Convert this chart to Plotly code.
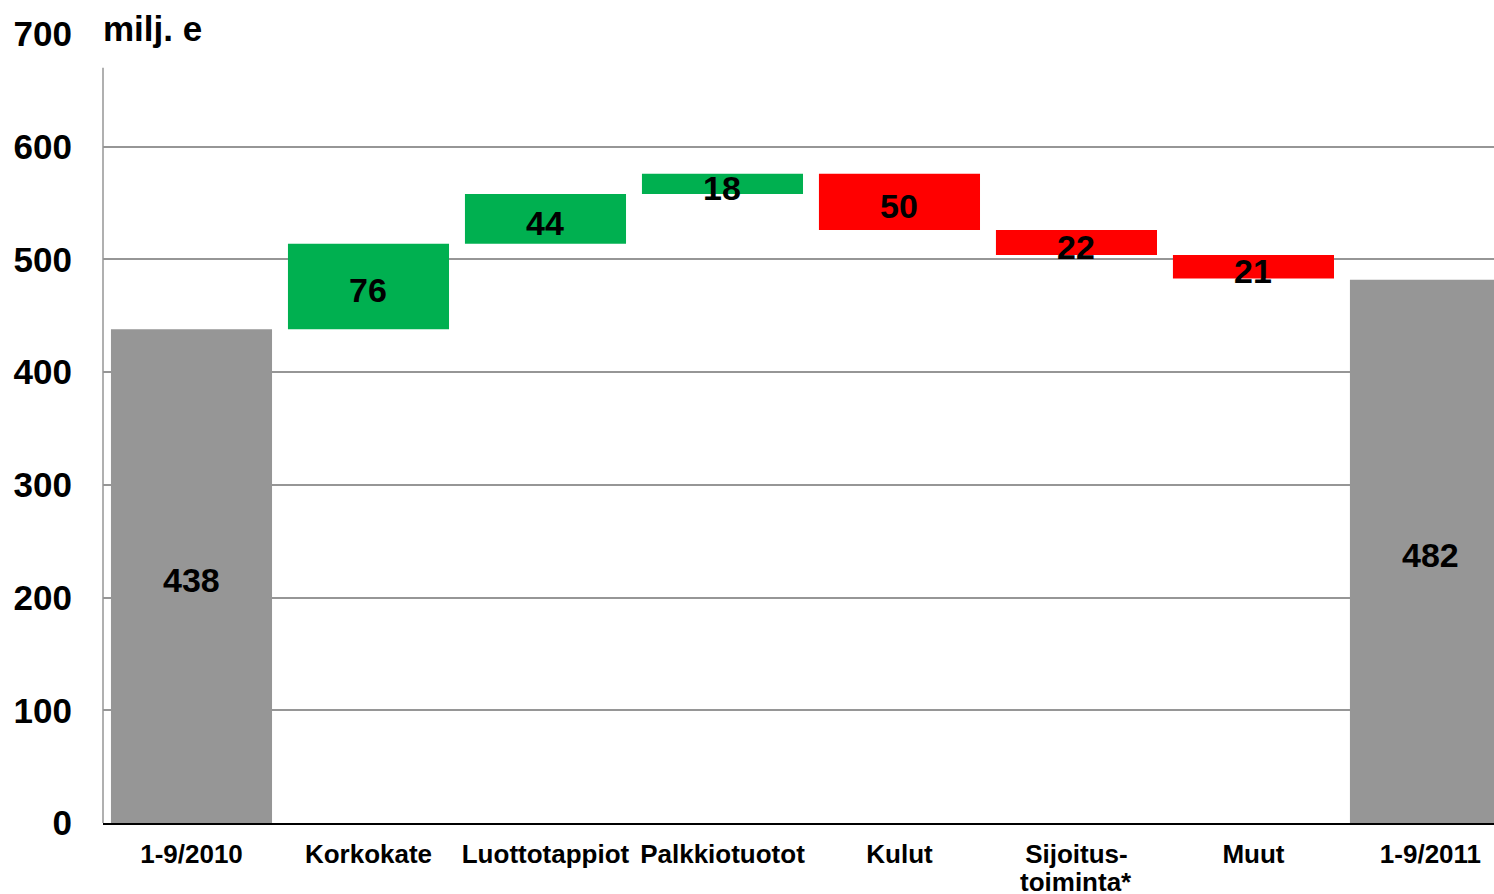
import plotly.graph_objects as go

categories = ["1-9/2010", "Korkokate", "Luottotappiot", "Palkkiotuotot", "Kulut",
              "Sijoitus-toiminta*", "Muut", "1-9/2011"]
tick_labels = ["1-9/2010", "Korkokate", "Luottotappiot", "Palkkiotuotot", "Kulut",
               "Sijoitus-", "Muut", "1-9/2011"]
tick_second_line = ["", "", "", "", "", "toiminta*", "", ""]
changes = [438, 76, 44, 18, -50, -22, -21, 482]
kinds = ["total", "up", "up", "up", "down", "down", "down", "total"]
labels = ["438", "76", "44", "18", "50", "22", "21", "482"]
y_ticks = [0, 100, 200, 300, 400, 500, 600, 700]

colors = {"total": "#969696", "up": "#00B050", "down": "#FF0000"}

# compute bases from the data (waterfall)
bases, heights = [], []
running = 0
for v, k in zip(changes, kinds):
    if k == "total":
        bases.append(0)
        heights.append(v)
        running = v
    else:
        if v >= 0:
            bases.append(running)
            heights.append(v)
        else:
            bases.append(running + v)
            heights.append(-v)
        running += v
mids = [b + h / 2 for b, h in zip(bases, heights)]

fig = go.Figure()
fig.add_trace(go.Bar(
    x=categories, y=heights, base=bases,
    marker=dict(color=[colors[k] for k in kinds], line=dict(width=0)),
    width=0.91, hoverinfo="skip", showlegend=False,
))

annotations = []
for c, m, t in zip(categories, mids, labels):
    annotations.append(dict(
        text=t, x=c, y=m, xref="x", yref="y", xanchor="center", yanchor="middle",
        yshift=-4, showarrow=False,
        font=dict(size=34, family="Liberation Sans", weight="bold", color="black"),
    ))
for c, t in zip(categories, tick_second_line):
    if t:
        annotations.append(dict(
            text=t, x=c, y=0, xref="x", yref="paper", xanchor="center", yanchor="middle",
            yshift=-59, showarrow=False, borderpad=0,
            font=dict(size=26, family="Liberation Sans", weight="bold", color="black"),
        ))
annotations.append(dict(
    text="milj. e", xref="paper", yref="y", x=0, y=700, xanchor="left",
    yanchor="middle", xshift=-2, yshift=6, showarrow=False,
    font=dict(size=35, family="Liberation Sans", weight="bold", color="black"),
))

fig.update_layout(
    width=1494, height=894,
    margin=dict(l=103, r=0, t=34, b=71, autoexpand=False),
    paper_bgcolor="white", plot_bgcolor="white",
    font=dict(family="Liberation Sans", color="black"),
    xaxis=dict(
        type="category", range=[-0.5, 7.359], automargin=False,
        tickvals=categories, ticktext=tick_labels,
        showline=True, linecolor="black", linewidth=2,
        showgrid=False, ticks="", tickangle=0,
        ticklabelstandoff=7,
        tickfont=dict(size=26, family="Liberation Sans", weight="bold"),
    ),
    yaxis=dict(
        range=[0, 700], tickvals=y_ticks, ticktext=[str(t) for t in y_ticks],
        automargin=False,
        showgrid=True, gridcolor="#969696", gridwidth=1.5,
        zeroline=False, showline=False, ticks="",
        ticklabelstandoff=30,
        tickfont=dict(size=35, family="Liberation Sans", weight="bold"),
    ),
    shapes=[
        dict(type="line", xref="paper", yref="y", x0=0, x1=0, y0=0, y1=670,
             line=dict(color="#969696", width=1.5), layer="above"),
        dict(type="rect", xref="paper", yref="y", x0=-0.002, x1=0.1, y0=690, y1=710,
             fillcolor="white", line=dict(width=0), layer="above"),
    ],
    annotations=annotations,
)

fig.write_html(
    "out.html",
    config={"displayModeBar": False},
    post_script="document.body.style.margin='0';document.body.style.overflow='hidden';",
)
